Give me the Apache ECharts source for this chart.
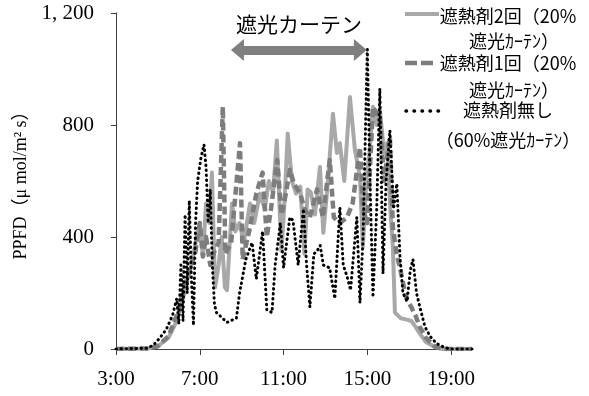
<!DOCTYPE html>
<html><head><meta charset="utf-8">
<script src="https://cdn.jsdelivr.net/npm/echarts@6/dist/echarts.min.js"></script>
<style>html,body{margin:0;padding:0;background:#fff}#c{width:589px;height:396px}</style>
</head><body><div id="c"></div>
<script>
// ---- data (hours of day as decimal, PPFD values) ----
const xTicks = [3, 7, 11, 15, 19];
const yTicks = [0, 400, 800, 1200];
const legendLines = [
  ['遮熱剤2回（20%', '遮光ｶｰﾃﾝ）'],
  ['遮熱剤1回（20%', '遮光ｶｰﾃﾝ）'],
  ['遮熱剤無し', '（60%遮光ｶｰﾃﾝ）']
];
const curtainLabel = '遮光カーテン';
const curtainStart = 8.8;   // hour
const curtainEnd = 14.67;   // hour
const curtainLevel = 1068;  // PPFD level of arrow

// 遮熱剤2回
const hoursTwice = [3.0,4.5,5.0,5.5,5.9,6.2,6.4,6.6,6.8,7.0,7.15,7.3,7.45,7.58,7.73,7.9,8.05,8.2,8.3,8.54,8.7,8.9,9.1,9.4,9.6,9.87,10.1,10.3,10.5,10.68,10.9,11.05,11.2,11.4,11.6,11.8,12.0,12.15,12.3,12.5,12.74,12.9,13.07,13.36,13.55,13.69,13.9,14.17,14.41,14.65,14.79,14.95,15.1,15.27,15.45,15.6,15.8,15.94,16.1,16.22,16.32,16.6,16.89,17.1,17.3,17.51,17.8,18.2,18.6,20.0];
const ppfdTwice = [0,2,10,40,100,180,245,300,380,450,330,520,450,630,220,300,400,220,210,520,420,450,380,520,450,555,500,600,560,745,350,530,770,600,555,580,340,570,560,480,650,415,555,840,700,735,600,900,710,615,365,600,700,865,800,855,700,735,500,365,130,110,105,100,80,55,25,8,0,0];

// 遮熱剤1回
const hoursOnce = [3.0,4.5,5.0,5.5,5.9,6.2,6.5,6.8,7.0,7.15,7.3,7.5,7.7,7.9,8.1,8.22,8.5,8.92,9.05,9.4,9.7,10.0,10.2,10.4,10.7,10.9,11.1,11.3,11.5,11.8,12.0,12.26,12.6,12.88,13.07,13.21,13.4,13.69,14.03,14.3,14.65,14.8,15.0,15.27,15.46,15.6,15.8,16.08,16.22,16.4,16.56,16.75,16.9,17.1,17.3,17.5,17.8,18.2,18.6,20.0];
const ppfdOnce = [0,2,10,45,120,200,280,350,450,330,400,300,350,380,865,340,380,735,320,435,555,630,400,500,675,480,550,640,590,555,500,470,570,470,590,675,470,450,470,520,720,500,450,865,840,820,600,757,435,340,290,220,175,150,120,80,40,10,0,0];

// 遮熱剤無し
const hoursNone = [3.0,4.5,4.8,5.1,5.4,5.7,5.9,6.0,6.1,6.2,6.3,6.4,6.5,6.6,6.7,6.8,6.9,7.05,7.2,7.3,7.4,7.5,7.6,7.7,7.8,8.3,8.75,8.9,9.2,9.5,9.7,10.0,10.2,10.45,10.6,10.85,11.0,11.3,11.45,11.7,11.95,12.1,12.26,12.45,12.6,12.75,12.9,13.2,13.45,13.69,13.85,14.03,14.2,14.5,14.65,14.8,15.0,15.13,15.27,15.45,15.6,15.75,15.9,16.08,16.25,16.41,16.56,16.7,16.9,17.05,17.18,17.35,17.51,17.75,18.0,18.3,18.7,19.0,20.0];
const ppfdNone = [0,3,15,40,70,120,180,90,300,100,480,200,530,250,85,450,600,680,730,650,450,570,300,160,130,95,110,200,320,380,250,420,140,130,300,450,290,470,460,300,500,300,150,340,350,370,300,290,180,505,300,260,210,470,165,400,1070,600,185,500,930,270,600,780,500,590,330,200,170,280,320,200,150,80,45,20,5,0,0];

// ---- chart ----
const zip = (h, v) => h.map((x, i) => [x, v[i]]);
const seriesNames = legendLines.map(l => l.join(''));
const cLight = '#a8a8a8', cDark = '#7d7d7d', cBlack = '#000000';
const numFont = 'Liberation Serif';
const jpFont = 'Noto Sans CJK JP';

const chart = echarts.init(document.getElementById('c'), null, {renderer: 'canvas'});
const option = {
  animation: false,
  backgroundColor: '#fff',
  grid: {left: 116, right: 117, top: 13, bottom: 47, containLabel: false, outerBoundsMode: 'none'},
  xAxis: {
    type: 'value', min: 3, max: 20, interval: 4,
    axisLine: {show: true, lineStyle: {color: '#404040', width: 1}},
    axisTick: {show: true, length: 6, customValues: xTicks, lineStyle: {color: '#404040'}},
    axisLabel: {customValues: xTicks, formatter: v => v + ':00', fontFamily: numFont, fontSize: 21, color: '#000', margin: 20},
    splitLine: {show: false}
  },
  yAxis: {
    type: 'value', min: 0, max: 1200, interval: 400,
    name: 'PPFD（μ mol/m² s）', nameLocation: 'middle', nameGap: 82,
    nameTextStyle: {fontFamily: numFont + ',' + jpFont, fontSize: 18, color: '#000'},
    axisLine: {show: true, lineStyle: {color: '#404040', width: 1}},
    axisTick: {show: true, length: 5, customValues: yTicks, lineStyle: {color: '#404040'}},
    axisLabel: {customValues: yTicks, formatter: v => v >= 1000 ? String(v).replace(/^(\d)(\d{3})$/, '$1, $2') : String(v), fontFamily: numFont, fontSize: 21, color: '#000', margin: 22},
    splitLine: {show: false}
  },
  series: [
    {name: seriesNames[0], type: 'line', showSymbol: false, symbol: 'none', data: zip(hoursTwice, ppfdTwice),
     lineStyle: {color: cLight, width: 4, join: 'round'}, z: 2},
    {name: seriesNames[1], type: 'line', showSymbol: false, symbol: 'none', data: zip(hoursOnce, ppfdOnce),
     lineStyle: {color: cDark, width: 4.5, type: [8, 4], join: 'round'}, z: 3},
    {name: seriesNames[2], type: 'line', showSymbol: false, symbol: 'none', data: zip(hoursNone, ppfdNone),
     lineStyle: {color: cBlack, width: 3, type: [0.5, 4.5], cap: 'round', join: 'round'}, z: 4,
     markLine: {
       silent: true, symbol: ['triangle', 'triangle'], symbolSize: [22, 13], precision: 2,
       lineStyle: {color: '#7f7f7f', width: 9, type: 'solid'},
       label: {show: true, position: 'insideMiddleTop', distance: 15, formatter: curtainLabel,
               fontFamily: jpFont, fontSize: 21, color: '#000'},
       emphasis: {disabled: true},
       data: [[{coord: [curtainStart, curtainLevel]}, {coord: [curtainEnd, curtainLevel]}]]
     }}
  ],
  graphic: [
    {type: 'line', shape: {x1: 405, y1: 14, x2: 439, y2: 14}, style: {stroke: cLight, lineWidth: 4}},
    {type: 'line', shape: {x1: 405, y1: 63, x2: 433, y2: 63}, style: {stroke: cDark, lineWidth: 4.5, lineDash: [12, 4]}},
    {type: 'line', shape: {x1: 406, y1: 111, x2: 438.5, y2: 111}, style: {stroke: cBlack, lineWidth: 3.5, lineDash: [0.5, 7.5], lineCap: 'round'}},
    {type: 'text', x: 508, y: 16, style: {text: legendLines[0][0], font: '18px "' + jpFont + '"', fill: '#000', align: 'center', verticalAlign: 'middle'}},
    {type: 'text', x: 514, y: 41, style: {text: legendLines[0][1], font: '18px "' + jpFont + '"', fill: '#000', align: 'center', verticalAlign: 'middle'}},
    {type: 'text', x: 508, y: 63, style: {text: legendLines[1][0], font: '18px "' + jpFont + '"', fill: '#000', align: 'center', verticalAlign: 'middle'}},
    {type: 'text', x: 514, y: 90, style: {text: legendLines[1][1], font: '18px "' + jpFont + '"', fill: '#000', align: 'center', verticalAlign: 'middle'}},
    {type: 'text', x: 508, y: 110, style: {text: legendLines[2][0], font: '18px "' + jpFont + '"', fill: '#000', align: 'center', verticalAlign: 'middle'}},
    {type: 'text', x: 508, y: 140, style: {text: legendLines[2][1], font: '18px "' + jpFont + '"', fill: '#000', align: 'center', verticalAlign: 'middle'}}
  ]
};
chart.setOption(option);
</script></body></html>
